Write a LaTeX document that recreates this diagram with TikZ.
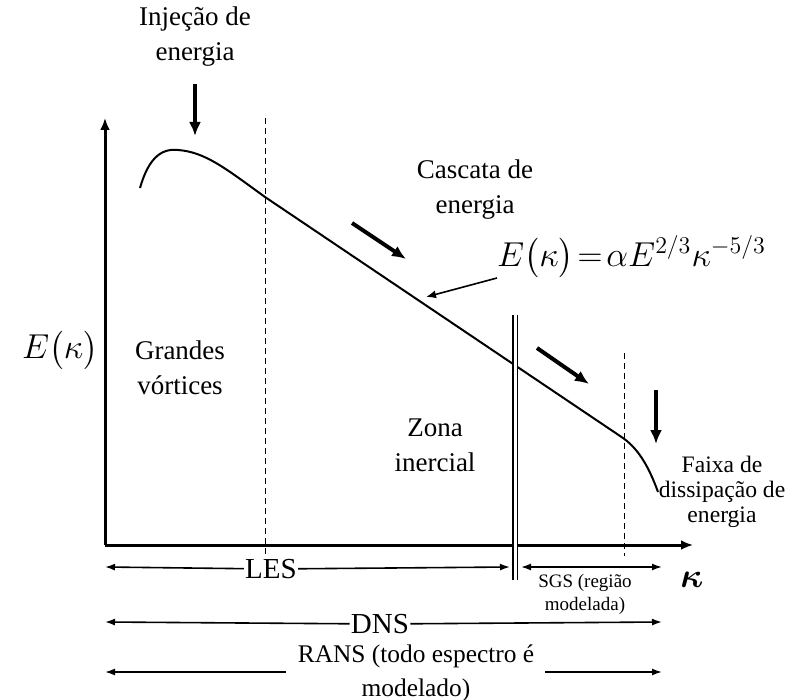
\documentclass[tikz,border=0pt]{standalone}
\usepackage{amsmath, amssymb}
\usepackage{fontspec}
\setmainfont{Liberation Serif}
\usetikzlibrary{
  arrows.meta,%
  positioning,%
  calc
}
\tikzset{>={Latex[length=5pt, width=3.5pt]}}
\tikzset{
  label text/.style={font=\rmfamily\fontsize{13.5}{17.5}\selectfont, align=center, inner sep=1pt},
  side text/.style={font=\rmfamily\fontsize{11.8}{12.5}\selectfont, align=center, inner sep=1pt},
  sgs text/.style={font=\rmfamily\fontsize{9.5}{11.5}\selectfont, align=center, inner sep=1pt},
  range text/.style={font=\rmfamily\fontsize{14.5}{15}\selectfont, fill=white, inner sep=0.5pt},
  flow arrow/.style={-{Latex[length=7pt, width=6pt]}, line width=2pt},
  hint arrow/.style={-{Latex[length=5pt, width=4pt]}, line width=0.8pt},
  range arrow/.style={->, line width=0.8pt},
  cutoff/.style={dash pattern=on 3pt off 2pt, line width=0.5pt},
  axis line/.style={-{Latex[length=6pt, width=5pt]}, line width=1.5pt},
}

\begin{document}
\begin{tikzpicture}[x=0.5pt, y=-0.5pt]
  \useasboundingbox (0, 0) rectangle (798, 700);
  % axes
  \coordinate (o) at (105, 545);
  \coordinate (ytop) at (105, 118);
  \coordinate (xend) at (693, 545);
  \draw[axis line] (o) -- (ytop);
  \draw[axis line] (o) -- (xend);
  % cut-off lines
  \coordinate (les top) at (265, 118);
  \coordinate (les bot) at (265, 558);
  \coordinate (diss top) at (624, 353);
  \coordinate (diss bot) at (624, 556);
  \draw[cutoff] (les top) -- (les bot);
  \draw[cutoff] (diss top) -- (diss bot);
  % spectrum
  \draw[line width=1pt] (140, 188) .. controls (148, 160) and (160, 148) .. (178, 150)
    .. controls (205, 152) and (225, 168) .. (265, 197) -- (623, 438)
    .. controls (640, 450) and (650, 470) .. (658, 492);
  % grid filter
  \coordinate (flt top) at (515, 315);
  \coordinate (flt bot) at (515, 580);
  \draw[double, double distance=1.5pt, line width=0.9pt] (flt top) -- (flt bot);
  % labels
  \node[label text] (inj) at (195, 37) {Injeção de\\energia};
  \node[label text] (casc) at (475, 190) {Cascata de\\energia};
  \node[label text] (big) at (180, 368) {Grandes\\vórtices};
  \node[label text] (zona) at (435, 445) {Zona\\inercial};
  \node[side text] (faixa) at (722, 492) {Faixa de\\dissipação de\\energia};
  \node[font=\fontsize{16}{18}\selectfont] (ek) at (60, 350) {$E\bigl(\kappa\bigr)$};
  \node[font=\fontsize{16.5}{18}\selectfont, anchor=west] (law) at (490, 257)
    {$E\bigl(\kappa\bigr)\!=\!\alpha E^{2/3}\kappa^{-5/3}$};
  \node[font=\fontsize{19}{20}\selectfont] (kap) at (692, 580) {$\boldsymbol{\kappa}$};
  % flow arrows
  \coordinate (inj a) at (195, 84);
  \coordinate (inj b) at (195, 136);
  \coordinate (c1 a) at (352, 223);
  \coordinate (c1 b) at (406, 259);
  \coordinate (c2 a) at (537, 348);
  \coordinate (c2 b) at (589, 384);
  \coordinate (d a) at (656, 390);
  \coordinate (d b) at (656, 444);
  \draw[flow arrow] (inj a) -- (inj b);
  \draw[flow arrow] (c1 a) -- (c1 b);
  \draw[flow arrow] (c2 a) -- (c2 b);
  \draw[flow arrow] (d a) -- (d b);
  \coordinate (law tail) at (497, 278);
  \coordinate (law tip) at (426, 297);
  \draw[hint arrow] (law tail) -- (law tip);
  % methods
  \coordinate (les l) at (105, 567);
  \coordinate (les r) at (510, 567);
  \node[range text] (les) at (271, 569) {LES};
  \draw[range arrow] (les) -- (les l);
  \draw[range arrow] (les) -- (les r);
  \coordinate (sgs l) at (521, 567);
  \coordinate (sgs r) at (662, 567);
  \draw[range arrow, <->] (sgs l) -- (sgs r);
  \node[sgs text] (sgs) at (585, 594) {SGS (região\\modelada)};
  \coordinate (dns l) at (105, 622);
  \coordinate (dns r) at (662, 622);
  \node[range text] (dns) at (380, 624) {DNS};
  \draw[range arrow] (dns) -- (dns l);
  \draw[range arrow] (dns) -- (dns r);
  \node[label text, font=\rmfamily\fontsize{12.7}{17}\selectfont] (rans) at (416, 673) {RANS (todo espectro é\\modelado)};
  \coordinate (rans l) at (105, 672);
  \coordinate (rans r) at (662, 672);
  \coordinate (rans a) at (286, 672);
  \coordinate (rans b) at (545, 672);
  \draw[range arrow] (rans a) -- (rans l);
  \draw[range arrow] (rans b) -- (rans r);
\end{tikzpicture}
\end{document}
